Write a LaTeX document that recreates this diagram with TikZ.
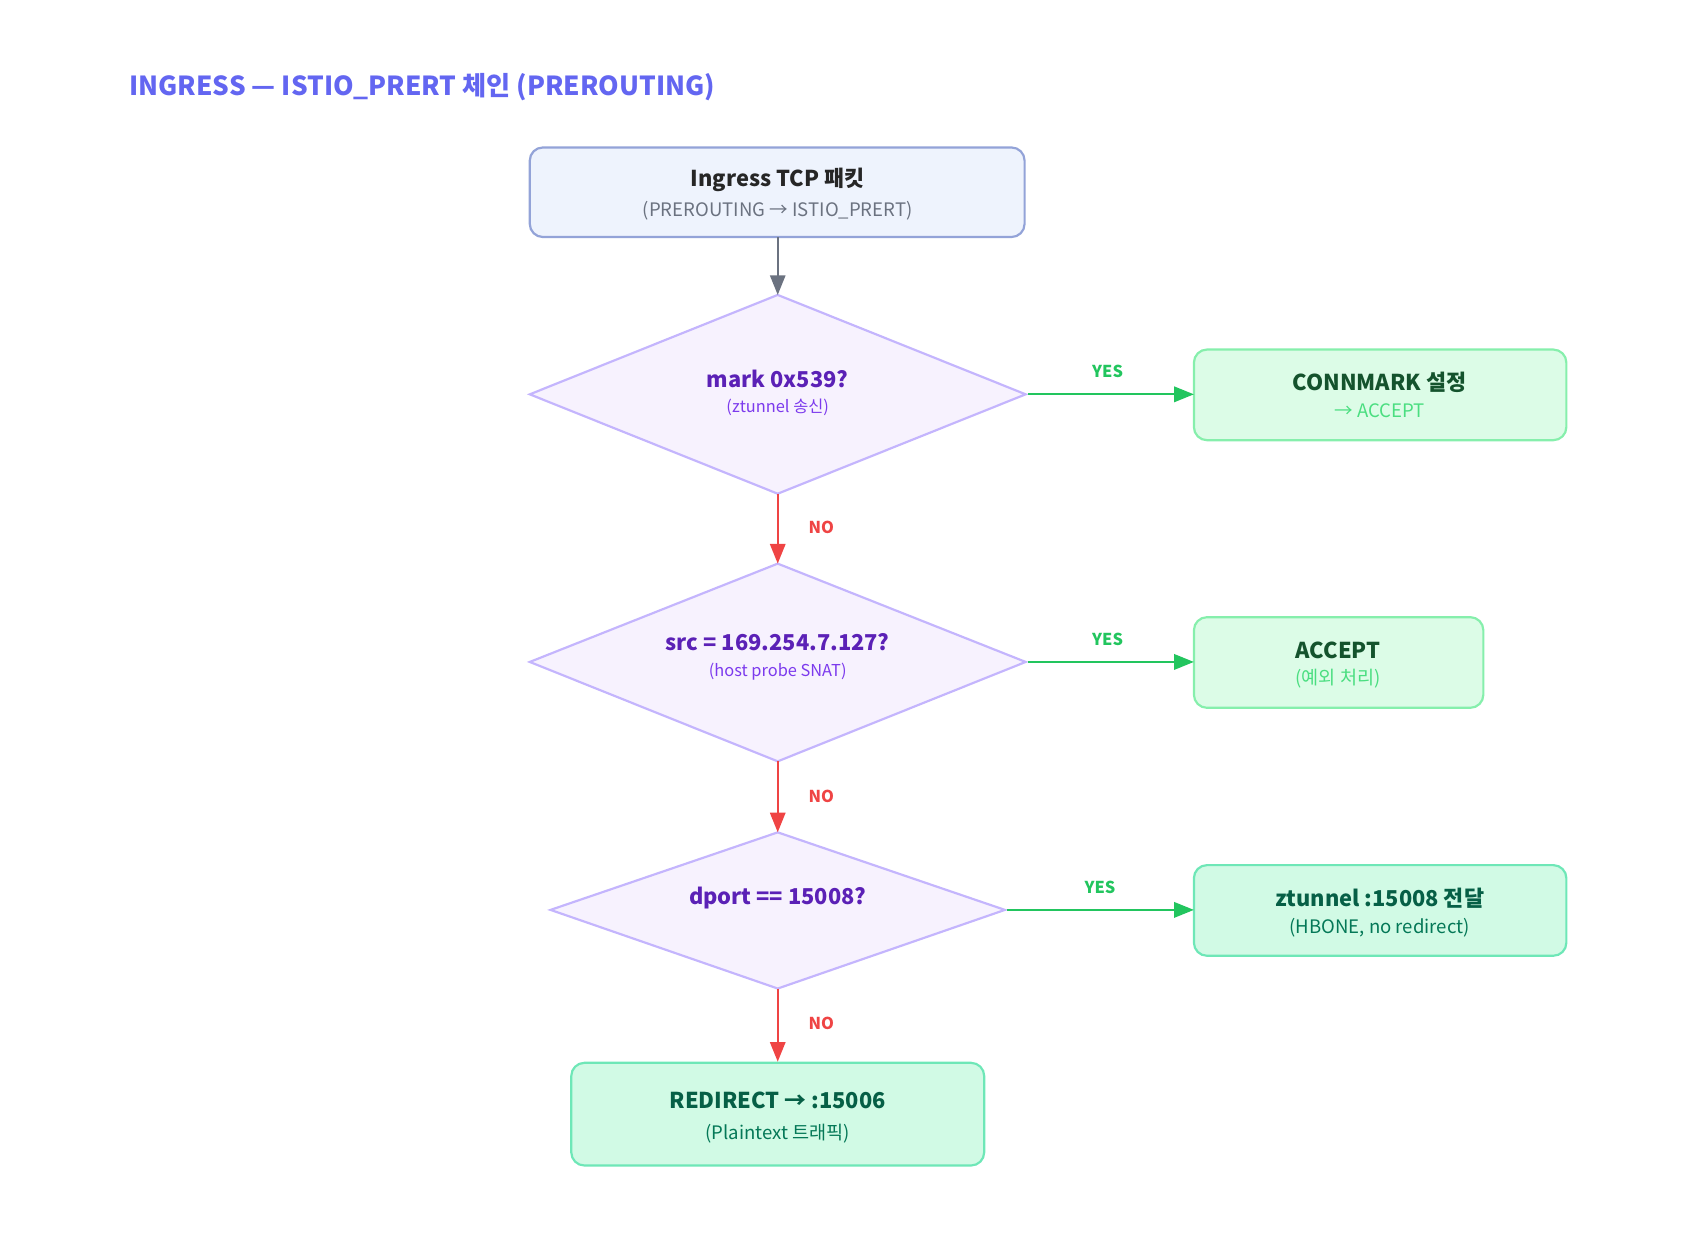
\documentclass[tikz,border=0pt]{standalone}
\usepackage{fontspec}
\setmainfont{Noto Sans CJK KR}
\usetikzlibrary{shapes.geometric,arrows.meta}
\definecolor{title}{HTML}{6366F1}
\definecolor{sbf}{HTML}{EEF3FD}\definecolor{sbd}{HTML}{93A3D8}
\definecolor{df}{HTML}{F7F2FE}\definecolor{dd}{HTML}{C4B5FD}
\definecolor{dt}{HTML}{5B21B6}\definecolor{ds}{HTML}{7C3AED}
\definecolor{gf}{HTML}{DCFCE7}\definecolor{gd}{HTML}{86EFAC}\definecolor{gt}{HTML}{14532D}\definecolor{gs}{HTML}{4ADE80}
\definecolor{ef}{HTML}{D1FAE5}\definecolor{ed}{HTML}{6EE7B7}\definecolor{et}{HTML}{065F46}\definecolor{es}{HTML}{047857}
\definecolor{yes}{HTML}{22C55E}\definecolor{no}{HTML}{EF4444}\definecolor{gr}{HTML}{6B7280}
\begin{document}
\begin{tikzpicture}[x=1pt,y=-1pt,
 box/.style={draw,rounded corners=12pt,line width=2pt},
 dia/.style={draw=dd,fill=df,line width=2pt},
 yesa/.style={draw=yes,line width=2pt,-{Triangle[length=18pt,width=14pt]}},
 noa/.style={draw=no,line width=2pt,-{Triangle[length=18pt,width=14pt]}},
 lab/.style={font=\fontsize{15}{18}\selectfont\bfseries},
 mt/.style={font=\fontsize{20}{24}\selectfont\bfseries},
 st/.style={font=\fontsize{17}{20}\selectfont}]
\useasboundingbox (0,0) rectangle (1560,1131.5);
\node[anchor=west,text=title,font=\fontsize{24}{28}\selectfont\bfseries] (t) at (115,80) {INGRESS — ISTIO\_PRERT 체인 (PREROUTING)};
% start
\draw[box,draw=sbd,fill=sbf] (485,135) rectangle (938,217);
\node[mt,text=black!85] (s1) at (712,165) {Ingress TCP 패킷};
\node[st,text=gr] (s2) at (712,193) {(PREROUTING → ISTIO\_PRERT)};
\coordinate (sb) at (712,217);
% diamonds
\draw[dia] (485,361) -- (712,270) -- (939,361) -- (712,452) -- cycle;
\coordinate (d1t) at (712,270);\coordinate (d1r) at (941,361);\coordinate (d1b) at (712,452);
\node[mt,text=dt] (d1a) at (712,347) {mark 0x539?};
\node[st,font=\fontsize{15}{18}\selectfont,text=ds] (d1s) at (712,373) {(ztunnel 송신)};
\draw[dia] (485,606) -- (712,516) -- (939,606) -- (712,697) -- cycle;
\coordinate (d2t) at (712,516);\coordinate (d2r) at (941,606);\coordinate (d2b) at (712,697);
\node[mt,text=dt] (d2a) at (712,588) {src = 169.254.7.127?};
\node[st,font=\fontsize{15}{18}\selectfont,text=ds] (d2s) at (712,615) {(host probe SNAT)};
\draw[dia] (504,833) -- (712,762) -- (920,833) -- (712,905) -- cycle;
\coordinate (d3t) at (712,762);\coordinate (d3r) at (922,833);\coordinate (d3b) at (712,905);
\node[mt,text=dt] (d3a) at (712,822) {dport == 15008?};
% right boxes
\draw[box,draw=gd,fill=gf] (1093,320) rectangle (1434,403);
\coordinate (b1) at (1093,361);
\node[mt,text=gt] (b1a) at (1263,350) {CONNMARK 설정};
\node[st,text=gs] (b1b) at (1263,376) {→ ACCEPT};
\draw[box,draw=gd,fill=gf] (1093,565) rectangle (1358,648);
\coordinate (b2) at (1093,606);
\node[mt,text=gt] (b2a) at (1225,595) {ACCEPT};
\node[st,text=gs] (b2b) at (1225,621) {(예외 처리)};
\draw[box,draw=ed,fill=ef] (1093,792) rectangle (1434,875);
\coordinate (b3) at (1093,833);
\node[mt,text=et] (b3a) at (1263,822) {ztunnel :15008 전달};
\node[st,text=es] (b3b) at (1263,849) {(HBONE, no redirect)};
\draw[box,draw=ed,fill=ef] (523,973) rectangle (901,1067);
\coordinate (b4) at (712,972);
\node[mt,text=et] (b4a) at (712,1007) {REDIRECT → :15006};
\node[st,text=es] (b4b) at (712,1038) {(Plaintext 트래픽)};
% arrows
\draw[draw=gr,line width=2pt,-{Triangle[length=18pt,width=14pt]}] (sb) -- (d1t);
\draw[yesa] (d1r) -- (b1);\node[lab,text=yes] (y1) at (1014,340) {YES};
\draw[yesa] (d2r) -- (b2);\node[lab,text=yes] (y2) at (1014,585) {YES};
\draw[yesa] (d3r) -- (b3);\node[lab,text=yes] (y3) at (1007,812) {YES};
\draw[noa] (d1b) -- (d2t);\node[lab,text=no] (n1) at (752,483) {NO};
\draw[noa] (d2b) -- (d3t);\node[lab,text=no] (n2) at (752,729) {NO};
\draw[noa] (d3b) -- (b4);\node[lab,text=no] (n3) at (752,937) {NO};
\end{tikzpicture}
\end{document}
